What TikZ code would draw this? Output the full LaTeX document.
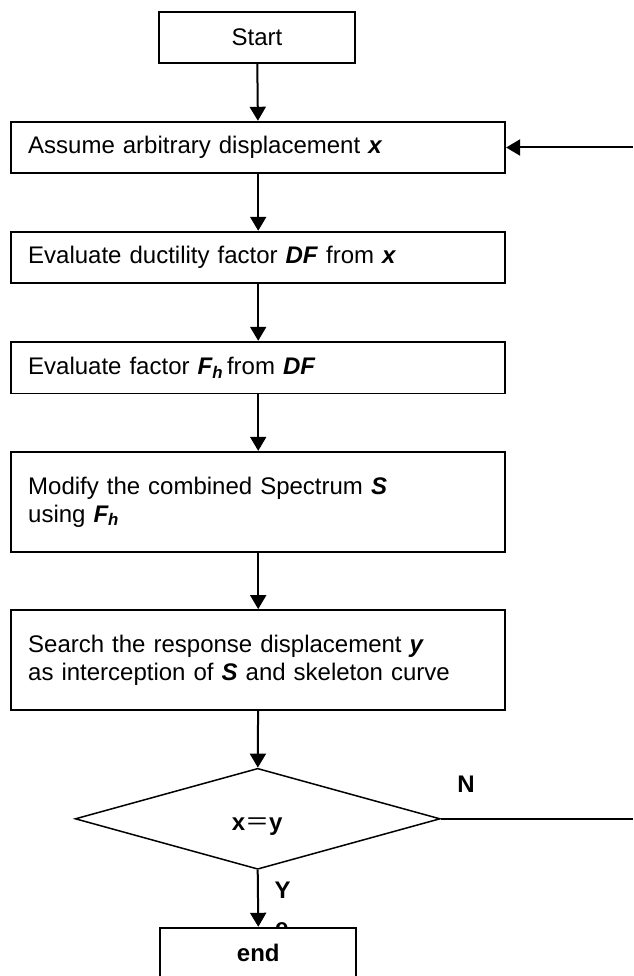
\documentclass[tikz,border=0pt]{standalone}
\usepackage{fontspec}
\setmainfont{Liberation Sans}
\newfontfamily\cjk{Noto Sans CJK SC}
\usetikzlibrary{arrows.meta,shapes.geometric}
\begin{document}
\begin{tikzpicture}[x=1pt,y=-1pt,
  every node/.style={font=\fontsize{24}{28}\selectfont},
  procbox/.style={draw, line width=1.8pt, rectangle, text width=460pt,
    inner xsep=17pt, inner ysep=0pt, align=left, minimum height=#1},
  termbox/.style={draw, line width=1.8pt, rectangle, minimum width=196pt,
    minimum height=51pt, inner sep=0pt, fill=white},
  decision/.style={draw, line width=1.5pt, diamond, aspect=3.6,
    minimum width=365pt, minimum height=101pt, inner sep=0pt},
  lbl/.style={anchor=base, inner sep=0pt, font=\fontsize{24}{28}\selectfont\bfseries},
  arr/.style={line width=2pt, -{Triangle[width=16pt,length=14pt]}},
  thinline/.style={line width=1.5pt}
]
\useasboundingbox (0,0) rectangle (633,976);
\clip (0,0) rectangle (633,976);

\node[termbox] (start) at (257,37.5) {Start};
\node[procbox=51.6pt] (b2) at (258.2,147.5) {Assume arbitrary displacement \textbf{\textit{x}}};
\node[procbox=51.6pt] (b3) at (258.2,257.5) {Evaluate ductility factor \textbf{\textit{DF}} from \textbf{\textit{x}}};
\node[procbox=51.8pt] (b4) at (258.2,367.6) {Evaluate factor \textbf{\textit{F\textsubscript{h}}}\,from \textbf{\textit{DF}}};
\node[procbox=100.3pt] (b5) at (258.2,501.9) {Modify the combined Spectrum \textbf{\textit{S}}\\using \textbf{\textit{F\textsubscript{h}}}};
\node[procbox=100pt] (b6) at (258.2,660) {Search the response displacement \textbf{\textit{y}}\\as interception of \textbf{\textit{S}} and skeleton curve};
\node[decision] (dec) at (257.7,818.8) {};
\node[lbl] (dectext) at (257.2,830.7) {x{\cjk\mdseries ＝}y};
\node[lbl] (nlab) at (466,792.3) {N};
\node[lbl] (ylab) at (282.7,898) {Y};
\node[lbl] (elab) at (281.7,935) {e};
\node[termbox, font=\fontsize{24}{28}\selectfont\bfseries] (endb) at (258.3,953.2) {end};

\coordinate (fb) at (633,147.5);
\coordinate (nend) at (633,818.8);

\draw[arr] (start) -- (b2);
\draw[arr] (b2) -- (b3);
\draw[arr] (b3) -- (b4);
\draw[arr] (b4) -- (b5);
\draw[arr] (b5) -- (b6);
\draw[arr] (b6) -- (dec);
\draw[arr] (dec.south) -- (endb.north);
\draw[arr] (fb) -- (b2.east);
\draw[thinline] (dec.east) -- (nend);
\end{tikzpicture}
\end{document}
